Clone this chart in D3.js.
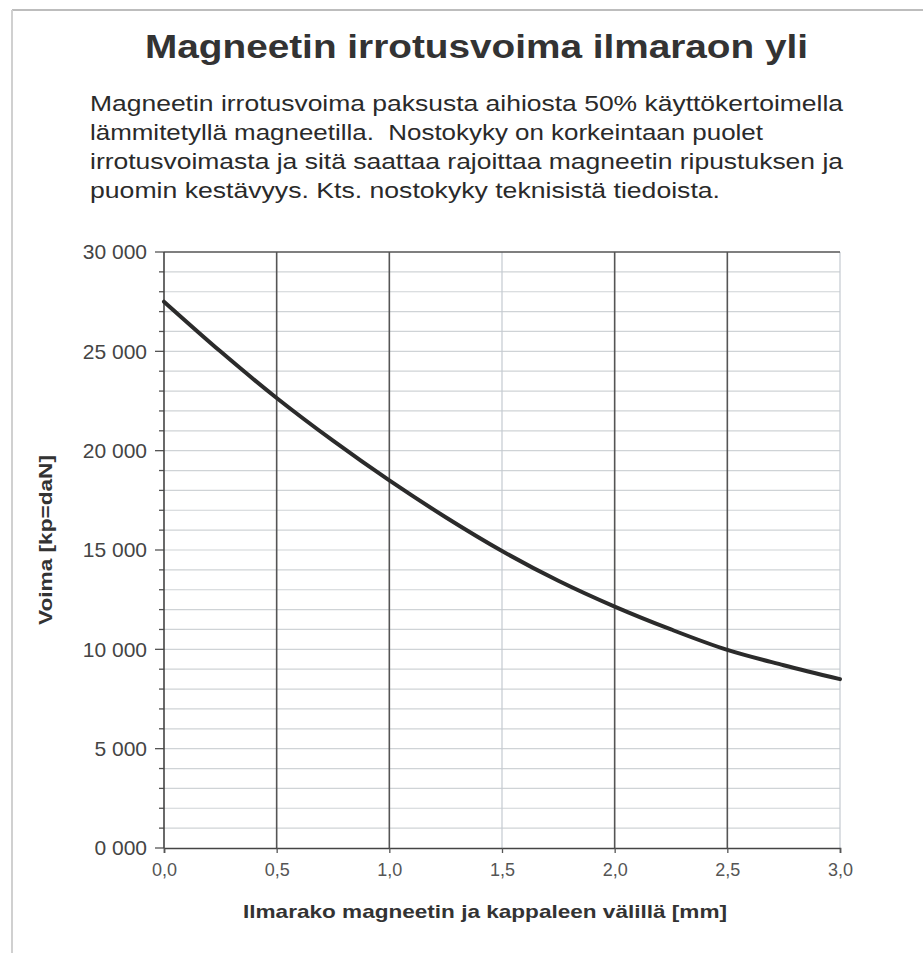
<!DOCTYPE html>
<html>
<head>
<meta charset="utf-8">
<script src="https://cdn.jsdelivr.net/npm/d3@7"></script>
<style>
  body { margin: 0; background: #fff; }
  svg text { font-family: "Liberation Sans", Arial, sans-serif; white-space: pre; }
</style>
</head>
<body>
<div id="chart"></div>
<script>
// data
const gapMm = [0, 0.25, 0.5, 0.75, 1.0, 1.25, 1.5, 1.75, 2.0, 2.25, 2.5, 2.75, 3.0];
const forceKp = [27500, 25000, 22650, 20500, 18500, 16650, 14950, 13450, 12150, 11000, 9970, 9200, 8500];
const yTicks = [0, 5000, 10000, 15000, 20000, 25000, 30000];
const yTickLabels = ["0 000", "5 000", "10 000", "15 000", "20 000", "25 000", "30 000"];
const xTicks = [0, 0.5, 1.0, 1.5, 2.0, 2.5, 3.0];
const xTickLabels = ["0,0", "0,5", "1,0", "1,5", "2,0", "2,5", "3,0"];
const titleText = "Magneetin irrotusvoima ilmaraon yli";
const noteLines = [
  "Magneetin irrotusvoima paksusta aihiosta 50% käyttökertoimella",
  "lämmitetyllä magneetilla.  Nostokyky on korkeintaan puolet",
  "irrotusvoimasta ja sitä saattaa rajoittaa magneetin ripustuksen ja",
  "puomin kestävyys. Kts. nostokyky teknisistä tiedoista."
];

(() => {
  const width = 923, height = 953;
  const svg = d3.select("#chart").append("svg")
    .attr("width", width).attr("height", height);

  // scanned page frame
  svg.append("line").attr("x1", 12).attr("x2", width).attr("y1", 10).attr("y2", 10)
    .attr("stroke", "#bdbdbd").attr("stroke-width", 2);
  svg.append("line").attr("x1", 12).attr("x2", 12).attr("y1", 10).attr("y2", height)
    .attr("stroke", "#d0d0d0").attr("stroke-width", 2);

  // stretch a text to the width it has in the scan
  const fitWidth = (sel, w) => sel.attr("textLength", w).attr("lengthAdjust", "spacingAndGlyphs");

  // title + note
  svg.append("text")
    .attr("x", 145).attr("y", 58)
    .attr("font-size", 34).attr("font-weight", "bold")
    .attr("fill", "#333")
    .text(titleText)
    .call(fitWidth, 663);

  const noteWidths = [753, 673, 753, 630];
  svg.append("g").selectAll("text")
    .data(noteLines)
    .join("text")
    .attr("x", 90).attr("y", (d, i) => 111 + i * 29)
    .attr("font-size", 22)
    .attr("fill", "#2a2a2a")
    .text(d => d)
    .each(function(d, i) { d3.select(this).call(fitWidth, noteWidths[i]); });

  // plot area
  const x = d3.scaleLinear().domain([0, 3]).range([164, 840]);
  const y = d3.scaleLinear().domain([0, 30000]).range([848, 252]);

  const grid = svg.append("g");
  // minor horizontal grid every 1000
  grid.selectAll("line.h")
    .data(d3.range(1000, 30000, 1000))
    .join("line")
    .attr("class", "h")
    .attr("x1", x(0)).attr("x2", x(3))
    .attr("y1", d => y(d)).attr("y2", d => y(d))
    .attr("stroke", "#cfd3d6").attr("stroke-width", 1.2);

  // vertical grid
  grid.selectAll("line.v")
    .data(xTicks.slice(1))
    .join("line")
    .attr("class", "v")
    .attr("x1", d => x(d)).attr("x2", d => x(d))
    .attr("y1", y(0)).attr("y2", y(30000))
    .attr("stroke", d => (d === 1.5 || d === 3.0) ? "#c4cad0" : "#555")
    .attr("stroke-width", d => (d === 1.5 || d === 3.0) ? 1.2 : 1.6);

  // top border
  grid.append("line")
    .attr("x1", x(0)).attr("x2", x(3))
    .attr("y1", y(30000)).attr("y2", y(30000))
    .attr("stroke", "#555").attr("stroke-width", 1.6);

  // y axis with minor ticks
  const yAxisG = svg.append("g").attr("transform", `translate(${x(0)},0)`);
  yAxisG.selectAll("line.minor")
    .data(d3.range(0, 30001, 1000))
    .join("line")
    .attr("class", "minor")
    .attr("x1", d => d % 5000 === 0 ? -9 : -5).attr("x2", 0)
    .attr("y1", d => y(d)).attr("y2", d => y(d))
    .attr("stroke", "#555").attr("stroke-width", 1.3);
  yAxisG.append("line")
    .attr("y1", y(0)).attr("y2", y(30000))
    .attr("stroke", "#444").attr("stroke-width", 1.6);
  yAxisG.selectAll("text")
    .data(yTicks)
    .join("text")
    .attr("x", -17).attr("y", d => y(d))
    .attr("dy", "0.35em")
    .attr("text-anchor", "end")
    .attr("font-size", 21)
    .attr("fill", "#444")
    .text((d, i) => yTickLabels[i]);

  // x axis
  const xAxis = d3.axisBottom(x)
    .tickValues(xTicks)
    .tickFormat((d, i) => xTickLabels[i])
    .tickSize(5)
    .tickPadding(10);
  const xAxisG = svg.append("g")
    .attr("transform", `translate(0,${y(0)})`)
    .call(xAxis);
  xAxisG.select(".domain").attr("stroke", "#444").attr("stroke-width", 1.6);
  xAxisG.selectAll(".tick line").attr("stroke", "#555").attr("stroke-width", 1.3);
  xAxisG.selectAll(".tick text")
    .attr("font-size", 18).attr("fill", "#555")
    .attr("font-family", "Liberation Sans, Arial, sans-serif");

  // curve
  const line = d3.line()
    .x((d, i) => x(gapMm[i]))
    .y(d => y(d))
    .curve(d3.curveMonotoneX);
  svg.append("path")
    .datum(forceKp)
    .attr("d", line)
    .attr("fill", "none")
    .attr("stroke", "#2b2b2b")
    .attr("stroke-width", 4)
    .attr("stroke-linecap", "round");

  // axis titles
  svg.append("text")
    .attr("x", 243).attr("y", 918)
    .attr("font-size", 19).attr("font-weight", "bold")
    .attr("fill", "#333")
    .text("Ilmarako magneetin ja kappaleen välillä [mm]")
    .call(fitWidth, 484);

  svg.append("text")
    .attr("transform", "translate(52,625) rotate(-90)")
    .attr("font-size", 18).attr("font-weight", "bold")
    .attr("fill", "#333")
    .text("Voima [kp=daN]")
    .call(fitWidth, 170);
})();
</script>
</body>
</html>
